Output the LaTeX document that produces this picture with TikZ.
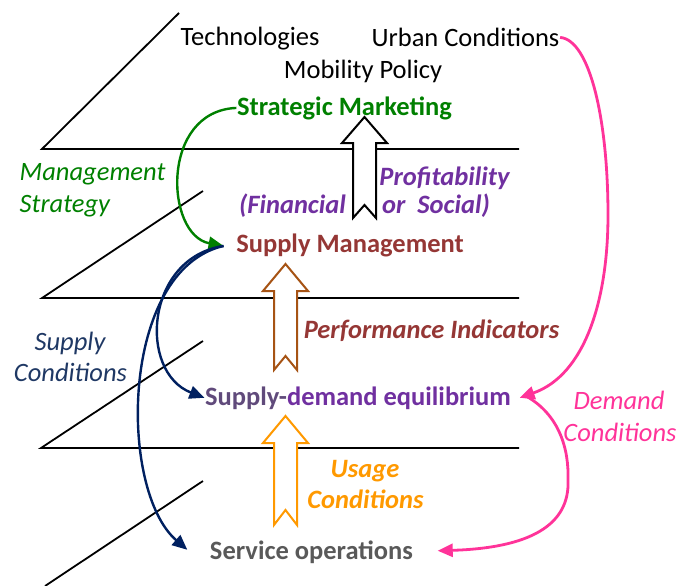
\documentclass[tikz,border=0pt]{standalone}
\usepackage{fontspec}
\setmainfont{Carlito}
\usetikzlibrary{arrows.meta}
\definecolor{mgreen}{RGB}{0,128,0}
\definecolor{mpurple}{RGB}{112,48,160}
\definecolor{mgrape}{RGB}{96,74,123}
\definecolor{mbrownred}{RGB}{149,55,53}
\definecolor{mnavytxt}{RGB}{31,56,100}
\definecolor{mnavy}{RGB}{0,32,96}
\definecolor{mpink}{RGB}{255,51,153}
\definecolor{morange}{RGB}{255,153,0}
\definecolor{mbrown}{RGB}{166,83,20}
\definecolor{mgrey}{RGB}{89,89,89}
\begin{document}
\begin{tikzpicture}[x=1pt,y=-1pt,
  txt/.style={inner sep=0.5pt,font=\fontsize{26.5}{31}\selectfont},
  plane/.style={line width=1.8pt,black},
  block/.style={line width=2pt,fill=white,line join=miter},
  curve/.style={line width=2.4pt,-{Triangle[length=15pt,width=13pt]}}
]
\useasboundingbox (0,0) rectangle (678,586);
% planes
\draw[plane] (179,13) -- (42,149) -- (519,149);
\draw[plane] (203,191) -- (42,298) -- (519,298);
\draw[plane] (203,341) -- (41,448) -- (519,448);
\draw[plane] (203,481) -- (45,586);
% block arrows
\draw[block,draw=black] (353,218) -- (353,143) -- (342,143) -- (364.5,117) -- (387,143) -- (376,143) -- (376,218) -- (364.5,205) -- cycle;
\draw[block,draw=mbrown] (274,370) -- (274,291) -- (263,291) -- (285.5,264) -- (308,291) -- (297,291) -- (297,370) -- (285.5,356) -- cycle;
\draw[block,draw=morange] (274,525) -- (274,443) -- (263,443) -- (285.5,416) -- (308,443) -- (297,443) -- (297,525) -- (285.5,510) -- cycle;
% texts
\node[txt,anchor=base] (tech) at (250,46) {Technologies};
\node[txt,anchor=base] (urban) at (465.5,46.5) {Urban Conditions};
\node[txt,anchor=base] (mob) at (363,79) {Mobility Policy};
\node[txt,anchor=base,text=mgreen,font=\fontsize{26.5}{31}\selectfont\bfseries] (sm) at (344.5,115) {Strategic Marketing};
\node[txt,anchor=base west,text=mgreen,font=\fontsize{26.5}{31}\selectfont\itshape] (ms1) at (19,180) {Management};
\node[txt,anchor=base west,text=mgreen,font=\fontsize{26.5}{31}\selectfont\itshape] (ms2) at (19,212) {Strategy};
\node[txt,anchor=base,text=mpurple,font=\fontsize{26.5}{31}\selectfont\bfseries\itshape] (prof) at (444.5,185) {Profitability};
\node[txt,anchor=base,text=mpurple,font=\fontsize{26.5}{31}\selectfont\bfseries\itshape] (fin) at (292.5,213) {(Financial};
\node[txt,anchor=base,text=mpurple,font=\fontsize{26.5}{31}\selectfont\bfseries\itshape] (soc) at (436,213) {or\ \ Social)};
\node[txt,anchor=base,text=mbrownred,font=\fontsize{26.5}{31}\selectfont\bfseries] (smg) at (350,252) {Supply Management};
\node[txt,anchor=base,text=mnavytxt,font=\fontsize{26.5}{31}\selectfont\itshape] (sc1) at (70,350) {Supply};
\node[txt,anchor=base,text=mnavytxt,font=\fontsize{26.5}{31}\selectfont\itshape] (sc2) at (70.5,381) {Conditions};
\node[txt,anchor=base,text=mbrownred,font=\fontsize{26.5}{31}\selectfont\bfseries\itshape] (perf) at (431.5,338) {Performance Indicators};
\node[txt,anchor=base,text=mpurple,font=\fontsize{26.5}{31}\selectfont\bfseries] (sde) at (358,405) {\textcolor{mgrape}{Supply-}demand equilibrium};
\node[txt,anchor=base,text=mpink,font=\fontsize{26.5}{31}\selectfont\itshape] (dc1) at (619,409) {Demand};
\node[txt,anchor=base,text=mpink,font=\fontsize{26.5}{31}\selectfont\itshape] (dc2) at (620,441) {Conditions};
\node[txt,anchor=base,text=morange,font=\fontsize{26.5}{31}\selectfont\bfseries\itshape] (uc1) at (365,477) {Usage};
\node[txt,anchor=base,text=morange,font=\fontsize{26.5}{31}\selectfont\bfseries\itshape] (uc2) at (365.5,508) {Conditions};
\node[txt,anchor=base,text=mgrey,font=\fontsize{26.5}{31}\selectfont\bfseries] (so) at (311.5,559) {Service operations};
% connector ends
\coordinate (smgin) at ([xshift=-12pt,yshift=-1pt]smg.west);
\coordinate (sdeR) at ([xshift=8pt]sde.east);
\coordinate (soL) at ([xshift=-22pt,yshift=2pt]so.west);
\coordinate (soR) at ([xshift=24pt,yshift=1pt]so.east);
% curves
\draw[curve,mgreen] (sm.west) .. controls (160,111) and (165,235) .. (smgin);
\draw[curve,mnavy] (smgin) .. controls (145,258) and (138,372) .. (sde.west);
\draw[curve,mnavy] (smgin) .. controls (120,270) and (118,490) .. (soL);
\draw[curve,mpink,line width=2.8pt] (urban.east) .. controls (590,40) and (608,120) .. (608,215) .. controls (608,300) and (585,375) .. (sdeR);
\draw[curve,mpink,line width=2.8pt] ([xshift=6pt,yshift=2pt]sdeR) .. controls (560,415) and (569,450) .. (568,480) .. controls (570,525) and (530,548) .. (soR);
\end{tikzpicture}
\end{document}
